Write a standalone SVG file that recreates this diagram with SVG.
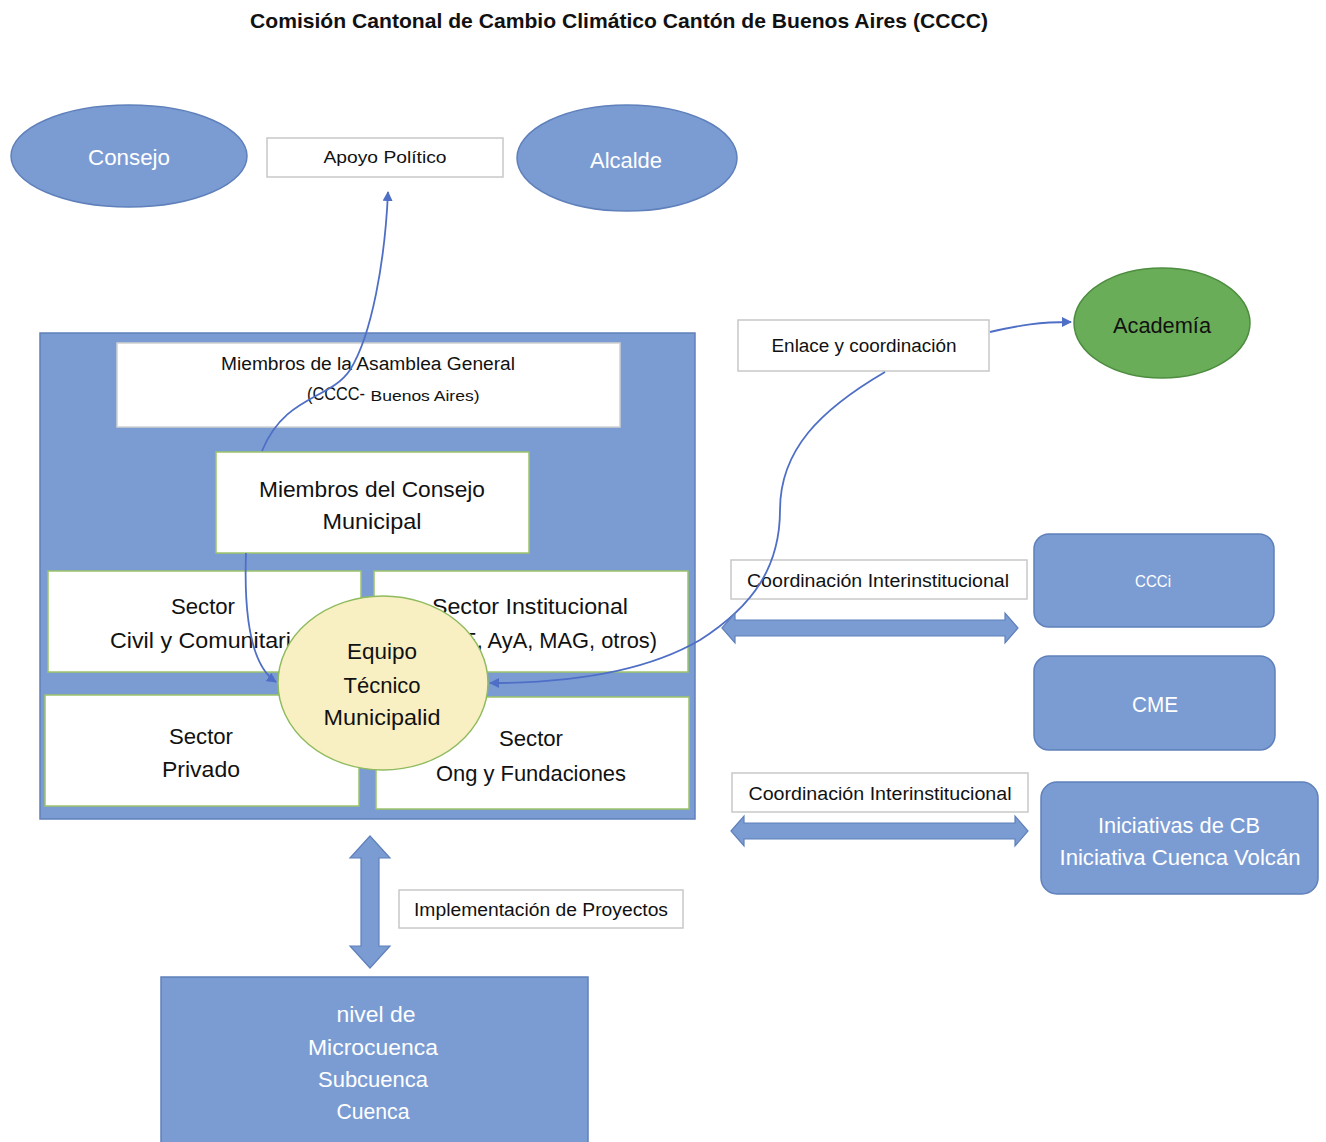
<svg xmlns="http://www.w3.org/2000/svg" width="1326" height="1142" viewBox="0 0 1326 1142">
<style>
text{font-family:"Liberation Sans Narrow","Liberation Sans",Arial,sans-serif;text-anchor:middle;dominant-baseline:central}
.blue{fill:#7b9cd3;stroke:#5f80bb;stroke-width:1.5}
.lbl{fill:#fff;stroke:#c8c8c8;stroke-width:1.5}
.wbox{fill:#fff;stroke:#9cc46a;stroke-width:1.5}
.wt{fill:#fff}
.bt{fill:#111}
.conn{fill:none;stroke:#4f6fc6;stroke-width:1.8}
.darrow{fill:#7b9cd3;stroke:#5f80bb;stroke-width:1.2}
</style>
<defs>
<marker id="ah" viewBox="0 0 10 10" refX="9" refY="5" markerWidth="10" markerHeight="10" markerUnits="userSpaceOnUse" orient="auto">
<path d="M0,0 L10,5 L0,10 z" fill="#4f6fc6"/>
</marker>
</defs>
<rect width="1326" height="1142" fill="#fff"/>
<text x="619" y="20" font-size="21" font-weight="bold" class="bt" textLength="738" lengthAdjust="spacingAndGlyphs">Comisión Cantonal de Cambio Climático Cantón de Buenos Aires (CCCC)</text>

<g id="consejo"><ellipse cx="129" cy="156" rx="118" ry="51" class="blue"/><text x="129" y="157" font-size="22" class="wt" textLength="82" lengthAdjust="spacingAndGlyphs">Consejo</text></g>
<g id="apoyo"><rect x="267" y="138" width="236" height="39" class="lbl"/><text x="385" y="157" font-size="17" class="bt" textLength="123" lengthAdjust="spacingAndGlyphs">Apoyo Político</text></g>
<g id="alcalde"><ellipse cx="627" cy="158" rx="110" ry="53" class="blue"/><text x="626" y="160" font-size="22" class="wt" textLength="72" lengthAdjust="spacingAndGlyphs">Alcalde</text></g>
<g id="academia"><ellipse cx="1162" cy="323" rx="88" ry="55" fill="#6aad58" stroke="#4e8d40" stroke-width="1.5"/><text x="1162" y="325" font-size="22" class="bt" textLength="98" lengthAdjust="spacingAndGlyphs">Academía</text></g>
<g id="enlace"><rect x="738" y="320" width="251" height="51" class="lbl"/><text x="864" y="346" font-size="18" class="bt" textLength="185" lengthAdjust="spacingAndGlyphs">Enlace y coordinación</text></g>

<g id="cccc"><rect x="40" y="333" width="655" height="486" class="blue"/></g>
<g id="asamblea"><rect x="117" y="343" width="503" height="84" fill="#fff" stroke="#d0d0d0" stroke-width="1.5"/>
<text x="368" y="364" font-size="18" class="bt" textLength="294" lengthAdjust="spacingAndGlyphs">Miembros  de la Asamblea General</text>
<text x="336" y="394" font-size="18" class="bt" textLength="58" lengthAdjust="spacingAndGlyphs">(CCCC-</text>
<text x="425" y="395" font-size="15" class="bt" textLength="109" lengthAdjust="spacingAndGlyphs">Buenos Aires)</text></g>
<g id="consejo-municipal"><rect x="216" y="452" width="313" height="101" class="wbox"/>
<text x="372" y="489" font-size="22" class="bt" textLength="226" lengthAdjust="spacingAndGlyphs">Miembros del Consejo</text>
<text x="372" y="521" font-size="22" class="bt" textLength="99" lengthAdjust="spacingAndGlyphs">Municipal</text></g>
<g id="sector-civil"><rect x="48" y="571" width="313" height="101" class="wbox"/>
<text x="203" y="606" font-size="22" class="bt" textLength="64" lengthAdjust="spacingAndGlyphs">Sector</text>
<text x="207" y="640" font-size="22" class="bt" textLength="194" lengthAdjust="spacingAndGlyphs">Civil y Comunitario</text></g>
<g id="sector-institucional"><rect x="374" y="571" width="314" height="101" class="wbox"/>
<text x="530" y="606" font-size="22" class="bt" textLength="196" lengthAdjust="spacingAndGlyphs">Sector Institucional</text>
<text x="545" y="640" font-size="22" class="bt" textLength="224" lengthAdjust="spacingAndGlyphs">(ICE, AyA, MAG, otros)</text></g>
<g id="sector-privado"><rect x="45" y="695" width="314" height="111" class="wbox"/>
<text x="201" y="736" font-size="22" class="bt" textLength="64" lengthAdjust="spacingAndGlyphs">Sector</text>
<text x="201" y="769" font-size="22" class="bt" textLength="78" lengthAdjust="spacingAndGlyphs">Privado</text></g>
<g id="sector-ong"><rect x="376" y="697" width="313" height="112" class="wbox"/>
<text x="531" y="738" font-size="22" class="bt" textLength="64" lengthAdjust="spacingAndGlyphs">Sector</text>
<text x="531" y="773" font-size="22" class="bt" textLength="190" lengthAdjust="spacingAndGlyphs">Ong y Fundaciones</text></g>
<g id="equipo"><ellipse cx="383" cy="683" rx="105" ry="87" fill="#f8efc2" stroke="#8fbb5e" stroke-width="1.5"/>
<text x="382" y="651" font-size="22" class="bt" textLength="70" lengthAdjust="spacingAndGlyphs">Equipo</text>
<text x="382" y="685" font-size="22" class="bt" textLength="77" lengthAdjust="spacingAndGlyphs">Técnico</text>
<text x="382" y="717" font-size="22" class="bt" textLength="117" lengthAdjust="spacingAndGlyphs">Municipalid</text></g>

<g id="ccci"><rect x="1034" y="534" width="240" height="93" rx="15" class="blue"/><text x="1153" y="581" font-size="17" class="wt" textLength="36" lengthAdjust="spacingAndGlyphs">CCCi</text></g>
<g id="cme"><rect x="1034" y="656" width="241" height="94" rx="15" class="blue"/><text x="1155" y="704" font-size="22" class="wt" textLength="46" lengthAdjust="spacingAndGlyphs">CME</text></g>
<g id="iniciativas"><rect x="1041" y="782" width="277" height="112" rx="16" class="blue"/>
<text x="1179" y="825" font-size="22" class="wt" textLength="162" lengthAdjust="spacingAndGlyphs">Iniciativas de CB</text>
<text x="1180" y="857" font-size="22" class="wt" textLength="241" lengthAdjust="spacingAndGlyphs">Iniciativa Cuenca Volcán</text></g>
<g id="coord1"><rect x="731" y="560" width="296" height="39" class="lbl"/><text x="878" y="581" font-size="18" class="bt" textLength="262" lengthAdjust="spacingAndGlyphs">Coordinación Interinstitucional</text></g>
<g id="coord2"><rect x="732" y="773" width="296" height="39" class="lbl"/><text x="880" y="794" font-size="18" class="bt" textLength="263" lengthAdjust="spacingAndGlyphs">Coordinación Interinstitucional</text></g>
<g id="implementacion"><rect x="399" y="890" width="284" height="38" class="lbl"/><text x="541" y="910" font-size="18" class="bt" textLength="254" lengthAdjust="spacingAndGlyphs">Implementación de Proyectos</text></g>
<g id="nivel"><rect x="161" y="977" width="427" height="175" class="blue"/>
<text x="376" y="1014" font-size="22" class="wt" textLength="79" lengthAdjust="spacingAndGlyphs">nivel de</text>
<text x="373" y="1047" font-size="22" class="wt" textLength="130" lengthAdjust="spacingAndGlyphs">Microcuenca</text>
<text x="373" y="1079" font-size="22" class="wt" textLength="110" lengthAdjust="spacingAndGlyphs">Subcuenca</text>
<text x="373" y="1111" font-size="22" class="wt" textLength="73" lengthAdjust="spacingAndGlyphs">Cuenca</text></g>

<g id="connectors">
<path class="conn" d="M262,451 C285,395 330,400 350,370 C372,335 385,260 388,192" marker-end="url(#ah)"/>
<path class="conn" d="M246,553 C244,610 250,665 276,682" marker-end="url(#ah)"/>
<path class="conn" d="M885,372 C820,410 780,450 780,510 C780,565 755,605 700,640 C640,675 560,683 490,683" marker-end="url(#ah)"/>
<path class="conn" d="M990,332 C1020,325 1040,322 1071,322" marker-end="url(#ah)"/>
<path class="darrow" d="M722,628 L735,613 L735,620 L1005,620 L1005,613 L1018,628 L1005,643 L1005,636 L735,636 L735,643 Z"/>
<path class="darrow" d="M731,831 L744,816 L744,823 L1015,823 L1015,816 L1028,831 L1015,846 L1015,839 L744,839 L744,846 Z"/>
<path class="darrow" d="M370,836 L390,858 L379,858 L379,946 L390,946 L370,968 L350,946 L361,946 L361,858 L350,858 Z"/>
</g>
</svg>
